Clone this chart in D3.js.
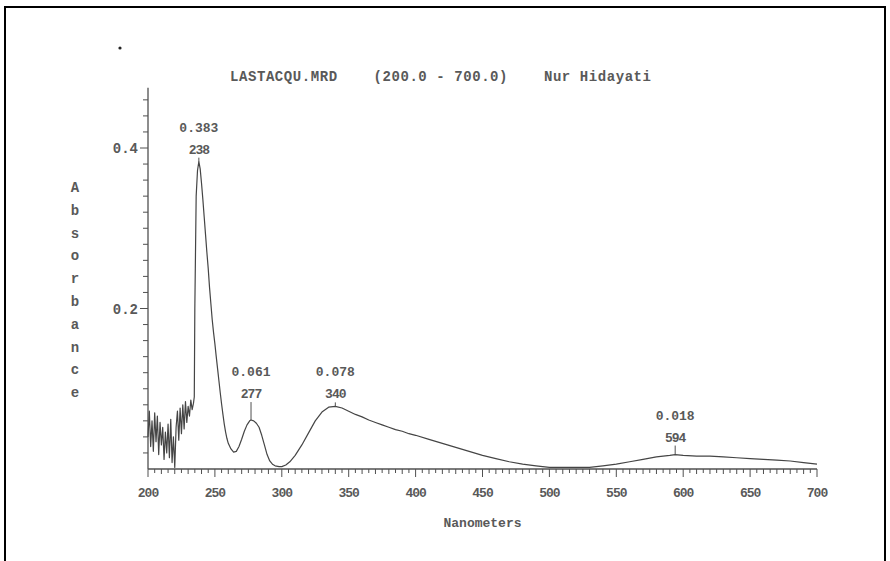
<!DOCTYPE html>
<html>
<head>
<meta charset="utf-8">
<script src="https://cdn.jsdelivr.net/npm/d3@7"></script>
<style>
  html, body { margin: 0; padding: 0; background: #fff; }
  svg { display: block; }
  text { font-family: "Liberation Mono", "DejaVu Sans Mono", monospace; font-weight: bold; fill: #595959; }
</style>
</head>
<body>
<svg id="chart" width="890" height="561"></svg>
<script>
// ── data ─────────────────────────────────────────────
const titleText = 'LASTACQU.MRD    (200.0 - 700.0)    Nur Hidayati';
const xLabel = 'Nanometers';
const yLabel = 'Absorbance';

const xTicks = [200, 250, 300, 350, 400, 450, 500, 550, 600, 650, 700];
const yTicks = [0.2, 0.4];

// wavelength (nm) and absorbance
const wavelength = [
  200, 201, 202, 203, 204, 205, 206, 207, 208, 209, 210, 211, 212, 213, 214, 215, 216, 217,
  218, 219, 220, 221, 222, 223, 224, 225, 226, 227, 228, 229, 230, 231, 232, 233, 234,
  234.6, 235, 236, 237, 238, 239, 240, 241, 242, 243, 244, 245, 246, 247, 248, 249, 250,
  251, 252, 253, 254, 255, 256, 257, 258, 259, 260, 262, 264, 266, 268, 270, 272, 274,
  276, 277, 279, 281, 283, 285, 287, 289, 291, 293, 295, 298, 300, 303, 306, 310, 315,
  320, 325, 330, 335, 340, 345, 350, 355, 360, 365, 370, 375, 380, 385, 390, 395, 400,
  410, 420, 430, 440, 450, 460, 470, 480, 490, 500, 510, 520, 530, 540, 550, 560, 570,
  580, 590, 594, 600, 610, 620, 630, 640, 650, 660, 670, 680, 690, 700
];
const absorbance = [
  0.040, 0.072, 0.028, 0.060, 0.022, 0.070, 0.034, 0.066, 0.018, 0.058, 0.030, 0.052, 0.012, 0.046, 0.020, 0.056, 0.014, 0.062,
  0.008, 0.040, 0.002, 0.052, 0.072, 0.036, 0.076, 0.044, 0.080, 0.050, 0.084, 0.058, 0.078, 0.066, 0.086, 0.074, 0.082,
  0.090, 0.20, 0.34, 0.372, 0.383, 0.374, 0.356, 0.336, 0.314, 0.292, 0.270, 0.250, 0.226, 0.206, 0.186, 0.170, 0.156,
  0.140, 0.125, 0.110, 0.095, 0.081, 0.068, 0.056, 0.046, 0.038, 0.032, 0.025, 0.021, 0.022, 0.028, 0.037, 0.047, 0.055,
  0.060, 0.061, 0.060, 0.057, 0.052, 0.042, 0.030, 0.018, 0.010, 0.006, 0.004, 0.003, 0.003, 0.005, 0.009, 0.017, 0.030,
  0.045, 0.060, 0.071, 0.077, 0.078, 0.076, 0.072, 0.068, 0.065, 0.061, 0.058, 0.055, 0.052, 0.049, 0.047, 0.044, 0.042,
  0.037, 0.032, 0.027, 0.022, 0.017, 0.013, 0.009, 0.006, 0.004, 0.002, 0.002, 0.002, 0.002, 0.004, 0.006, 0.009, 0.012,
  0.015, 0.017, 0.018, 0.017, 0.016, 0.016, 0.015, 0.014, 0.013, 0.012, 0.011, 0.010, 0.008, 0.006
];

// labelled peaks
const peakNm = [238, 277, 340, 594];
const peakAbs = [0.383, 0.061, 0.078, 0.018];
const peakAbsText = ['0.383', '0.061', '0.078', '0.018'];

// ── layout ───────────────────────────────────────────
const svg = d3.select('#chart');
const ink = '#505050';

const x = d3.scaleLinear().domain([200, 700]).range([148, 817]);
const y = d3.scaleLinear().domain([0, 0.4]).range([469, 148]);
const yTop = 0.475;

// page frame (open at the bottom)
svg.append('path')
  .attr('d', 'M5,561 L5,7 L885,7 L885,561')
  .attr('fill', 'none').attr('stroke', '#000').attr('stroke-width', 2);

// scan speck
svg.append('circle').attr('cx', 120).attr('cy', 48).attr('r', 1.6).attr('fill', '#222');

// title
svg.append('text')
  .attr('x', 230).attr('y', 81)
  .attr('textLength', 421)
  .style('white-space', 'pre')
  .style('font-size', '14px')
  .text(titleText);

// x axis
const xMinor = d3.range(200, 701, 5);
const gx = svg.append('g').attr('transform', `translate(0,${y(0)})`);
gx.append('line').attr('x1', x(200)).attr('x2', x(700)).attr('stroke', ink).attr('stroke-width', 1.3);
gx.selectAll('.xt').data(xMinor).enter().append('line')
  .attr('x1', d => x(d)).attr('x2', d => x(d))
  .attr('y1', 0)
  .attr('y2', d => d % 50 === 0 ? 8 : (d % 10 === 0 ? 5 : 4))
  .attr('stroke', ink).attr('stroke-width', 1);
gx.selectAll('.xl').data(xTicks).enter().append('text')
  .attr('x', d => x(d)).attr('y', 28)
  .attr('text-anchor', 'middle')
  .style('font-size', '13px')
  .style('letter-spacing', '-1px')
  .text(d => d);

svg.append('text')
  .attr('x', x(450)).attr('y', 527)
  .attr('text-anchor', 'middle')
  .style('font-size', '13px')
  .text(xLabel);

// y axis
const yMinor = d3.range(1, 24).map(i => i * 0.02);
const gy = svg.append('g').attr('transform', `translate(${x(200)},0)`);
gy.append('line').attr('y1', y(0)).attr('y2', y(yTop)).attr('stroke', ink).attr('stroke-width', 1.3);
gy.selectAll('.yt').data(yMinor).enter().append('line')
  .attr('y1', d => y(d)).attr('y2', d => y(d))
  .attr('x1', 0)
  .attr('x2', d => (Math.abs(d - 0.2) < 1e-6 || Math.abs(d - 0.4) < 1e-6) ? -8 : -5)
  .attr('stroke', ink).attr('stroke-width', 1);
gy.selectAll('.yl').data(yTicks).enter().append('text')
  .attr('x', -10).attr('y', d => y(d) + 5)
  .attr('text-anchor', 'end')
  .style('font-size', '14px')
  .text(d => d3.format('.1f')(d));

// stacked y label
svg.append('g').selectAll('text')
  .data(yLabel.split('')).enter().append('text')
  .attr('x', 75)
  .attr('y', (d, i) => 192 + i * 22.8)
  .attr('text-anchor', 'middle')
  .style('font-size', '14px')
  .text(d => d);

// spectrum
const trace = wavelength.map((w, i) => [w, absorbance[i]]);
svg.append('path')
  .datum(trace)
  .attr('fill', 'none')
  .attr('stroke', '#454545')
  .attr('stroke-width', 1.2)
  .attr('stroke-linejoin', 'round')
  .attr('d', d3.line().x(d => x(d[0])).y(d => y(d[1])));

// peak labels: lift of the wavelength label above the peak
const labelLift = { 238: 13, 277: 27, 340: 13, 594: 18 };
peakNm.forEach((nm, i) => {
  const px = x(nm), py = y(peakAbs[i]);
  const ly = py - labelLift[nm];
  svg.append('line')
    .attr('x1', px).attr('x2', px)
    .attr('y1', py).attr('y2', ly + 9)
    .attr('stroke', ink).attr('stroke-width', 1);
  svg.append('text')
    .attr('x', px).attr('y', ly + 5)
    .attr('text-anchor', 'middle')
    .style('font-size', '13px')
    .style('letter-spacing', '-1px')
    .text(nm);
  svg.append('text')
    .attr('x', px).attr('y', ly - 17)
    .attr('text-anchor', 'middle')
    .style('font-size', '13px')
    .text(peakAbsText[i]);
});
</script>
</body>
</html>
